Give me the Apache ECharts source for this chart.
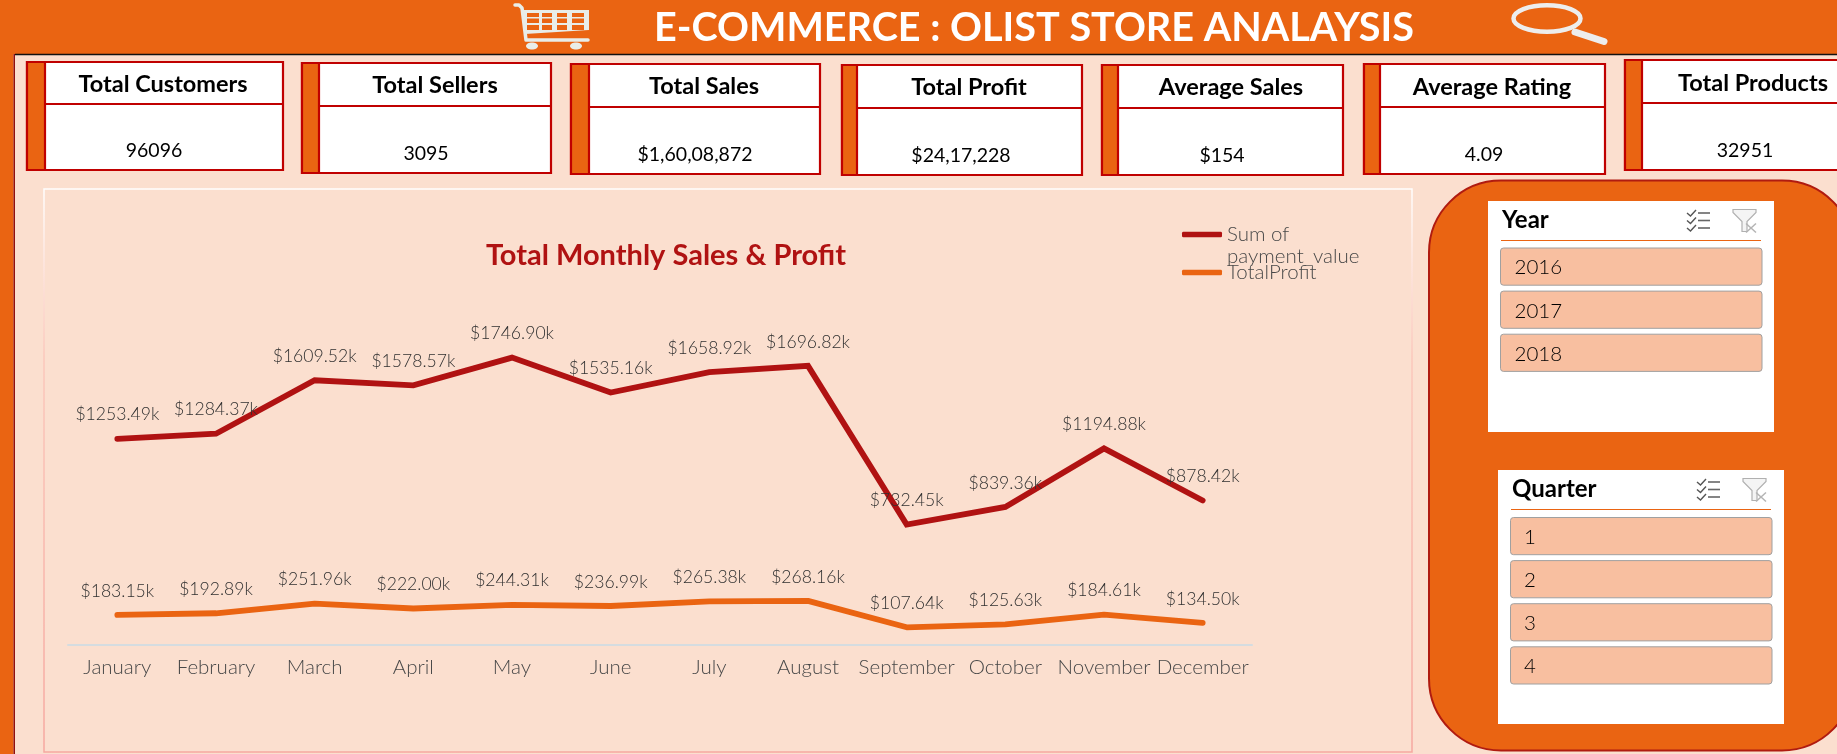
<!DOCTYPE html>
<html>
<head>
<meta charset="utf-8">
<style>html,body{margin:0;padding:0;background:#FBDFCF;overflow:hidden}#c{width:1837px;height:754px}</style>
<script src="https://cdn.jsdelivr.net/npm/echarts@6/dist/echarts.min.js"></script>
</head>
<body>
<div id="c"></div>
<script>
const months = ['January','February','March','April','May','June','July','August','September','October','November','December'];
const paymentValue = [1253.49,1284.37,1609.52,1578.57,1746.90,1535.16,1658.92,1696.82,732.45,839.36,1194.88,878.42];
const totalProfit = [183.15,192.89,251.96,222.00,244.31,236.99,265.38,268.16,107.64,125.63,184.61,134.50];
const kpiTitles = ['Total Customers','Total Sellers','Total Sales','Total Profit','Average Sales','Average Rating','Total Products'];
const kpiValues = ['96096','3095','$1,60,08,872','$24,17,228','$154','4.09','32951'];
const years = ['2016','2017','2018'];
const quarters = ['1','2','3','4'];

const ORANGE='#EA6412', RED='#C00000', LINE_RED='#B01212', BG='#FBDFCF', ICON='#E9EDE8';
const HEAD_FONT='Lato', BODY_FONT='Lato';

// layout of the KPI cards: x0,x1,y0,y1,tab right,divider y,title cx,title cy,value cx,value cy
const cardBoxes = [
 [27,283,62,170,45,104,163,84,154,151],
 [302,551,63,173,319,106,435,85,426,154],
 [571,820,64,174,589,107,704,86,695,155],
 [842,1082,65,175,857,108,969,87,961,156],
 [1102,1343,65,175,1118,108,1231,87,1222,156],
 [1364,1605,64,174,1380,107,1492,87,1484,155],
 [1625,1860,60,170,1642,103,1753,83,1745,151]
];

const g=[];
function rect(x,y,w,h,fill,stroke,lw,r,z){g.push({type:'rect',silent:true,z:z||1,shape:{x,y,width:w,height:h,r:r||0},style:{fill:fill||'none',stroke:stroke||'none',lineWidth:lw||0}});}
function text(s,x,y,size,color,weight,align,font){g.push({type:'text',silent:true,z:5,x,y,style:{text:s,fontSize:size,fontWeight:weight||'normal',fontFamily:font||BODY_FONT,fill:color,align:align||'center',verticalAlign:'middle'}});}
function line(x1,y1,x2,y2,color,lw,z,cap){g.push({type:'line',silent:true,z:z||3,shape:{x1,y1,x2,y2},style:{stroke:color,lineWidth:lw,lineCap:cap||'butt'}});}

// header and left strip
rect(0,0,1837,54,ORANGE);
line(15,54.5,1837,54.5,'#111111',1.5,2);
rect(0,54,13.5,700,ORANGE);
rect(13.5,54,1.5,700,'#8E1010');
text('E-COMMERCE : OLIST STORE ANALAYSIS',1034,28,39.6,'#FFFFFF','bold','center',HEAD_FONT);

// shopping cart icon
g.push({type:'polyline',silent:true,z:3,shape:{points:[[515,5],[519,5],[522,8],[526,40],[588,40]]},style:{stroke:ICON,lineWidth:3.5,fill:'none',lineCap:'round',lineJoin:'round'}});
g.push({type:'polygon',silent:true,z:3,shape:{points:[[522,10],[589,10],[589,30],[525,34]]},style:{fill:ICON}});
[[527,539],[542,552],[557,567],[572,584]].forEach(c=>{
  [[13,17],[18.5,23],[25,30]].forEach(r=>{rect(c[0],r[0],c[1]-c[0],r[1]-r[0],ORANGE,null,0,0,4);});
});
g.push({type:'ellipse',silent:true,z:3,shape:{cx:532,cy:46,rx:6,ry:3.5},style:{fill:ICON}});
g.push({type:'ellipse',silent:true,z:3,shape:{cx:576,cy:46,rx:6,ry:3.5},style:{fill:ICON}});

// magnifier icon
g.push({type:'ellipse',silent:true,z:3,shape:{cx:1547,cy:18.5,rx:33.5,ry:13.2},style:{fill:'none',stroke:'#EDEDED',lineWidth:4.5}});
line(1575,32,1604,41.5,'#EDEDED',7,3,'round');

// KPI cards
cardBoxes.forEach((b,i)=>{
  const [x0,x1,y0,y1,tab,div,tx,ty,vx,vy]=b;
  rect(x0,y0,x1-x0,y1-y0,'#FFFFFF',RED,2.2);
  rect(x0,y0,tab-x0,y1-y0,ORANGE,RED,2.2,0,2);
  line(tab,div,x1,div,RED,2);
  text(kpiTitles[i],tx,ty,23.5,'#000000','bold');
  text(kpiValues[i],vx,vy,19.5,'#000000');
});

// chart frame
g.push({type:'rect',silent:true,z:1,shape:{x:44,y:189,width:1368,height:563},style:{fill:'none',lineWidth:1.5,stroke:new echarts.graphic.LinearGradient(0,0,0,1,[{offset:0,color:'#FFFFFF'},{offset:.3,color:'#FBC8BC'},{offset:1,color:'#F6A8A0'}])}});

// legend second line
text('payment_value',1227,256,20.5,'#484848',300,'left');

// slicer panel
rect(1429,180.5,425,570,ORANGE,'#B01B10',2,72);

function checklist(x,y){
  for(let i=0;i<3;i++){
    const yy=y+4+i*7.5;
    g.push({type:'polyline',silent:true,z:4,shape:{points:[[x,yy],[x+3.5,yy+3],[x+9,yy-3]]},style:{stroke:'#555555',lineWidth:1.4,fill:'none'}});
    line(x+11,yy,x+23,yy,'#666666',1.6,4);
  }
}
function funnel(x,y){
  g.push({type:'polygon',silent:true,z:4,shape:{points:[[x,y],[x+23,y],[x+23,y+3],[x+14,y+12],[x+14,y+22],[x+9,y+22],[x+9,y+12],[x,y+3]]},style:{fill:'#F4F4F4',stroke:'#B0B0B0',lineWidth:1.2}});
  line(x+13,y+14,x+23,y+23,'#B4B4B4',1.5,5);
  line(x+23,y+14,x+13,y+23,'#B4B4B4',1.5,5);
}
function slicer(title,items,x0,y0,x1,y1,firstBtn,tx,center){
  rect(x0,y0,x1-x0,y1-y0,'#FFFFFF',null,0,0,2);
  text(title,x0+14,y0+19.5,24,'#000000','bold','left');
  line(x0+13,y0+39.5,x1-13,y0+39.5,ORANGE,1.2);
  checklist(x0+199,y0+8);
  funnel(x0+245,y0+8.5);
  items.forEach((s,i)=>{
    const y=firstBtn+i*43.1;
    rect(x0+12.5,y,261.5,37.2,'#F8BFA0','#A0A0A0',1,3,3);
    text(s,tx,y+19.8,20.5,'#000000',300,center?'center':'left');
  });
}
slicer('Year',years,1488,201,1774,432,248,1514.5,false);
slicer('Quarter',quarters,1498,470,1784,724,517.5,1530,true);

const labelStyle={show:true,position:'top',distance:14,fontFamily:BODY_FONT,fontWeight:300,fontSize:17.6,color:'#303030',formatter:p=>'$'+p.value.toFixed(2)+'k'};

const chart=echarts.init(document.getElementById('c'),null,{width:1837,height:754});
chart.setOption({
  animation:false,
  backgroundColor:BG,
  title:{text:'Total Monthly Sales & Profit',left:661,top:236,textAlign:'center',textStyle:{fontFamily:HEAD_FONT,fontWeight:'bold',fontSize:29,color:LINE_RED}},
  legend:{orient:'vertical',left:1182,top:224,padding:0,itemWidth:40,itemHeight:5.5,itemGap:17,icon:'roundRect',
    data:['Sum of payment_value','TotalProfit'],
    formatter:n=>n==='TotalProfit'?n:n.split(' ').slice(0,2).join(' '),
    textStyle:{fontFamily:BODY_FONT,fontWeight:300,fontSize:20.5,lineHeight:20,color:'#484848'}},
  grid:{left:68,right:1837-1252,top:316,height:329,containLabel:false},
  xAxis:{type:'category',data:months,boundaryGap:true,
    axisLine:{lineStyle:{color:'#D5DCE0',width:2}},axisTick:{show:false},
    axisLabel:{interval:0,margin:12,fontFamily:BODY_FONT,fontWeight:300,fontSize:20.5,color:'#484848'}},
  yAxis:{type:'value',min:0,max:2000,show:false,splitLine:{show:false}},
  series:[
    {name:'Sum of payment_value',type:'line',data:paymentValue,symbol:'circle',symbolSize:2,showSymbol:true,showAllSymbol:true,smooth:false,z:3,
      lineStyle:{color:LINE_RED,width:5.8,cap:'round',join:'miter'},itemStyle:{color:LINE_RED},label:labelStyle,labelLayout:{hideOverlap:false}},
    {name:'TotalProfit',type:'line',data:totalProfit,symbol:'circle',symbolSize:2,showSymbol:true,showAllSymbol:true,smooth:false,z:3,
      lineStyle:{color:ORANGE,width:5.8,cap:'round'},itemStyle:{color:ORANGE},label:labelStyle,labelLayout:{hideOverlap:false}}
  ],
  graphic:{elements:g}
});
</script>
</body>
</html>
